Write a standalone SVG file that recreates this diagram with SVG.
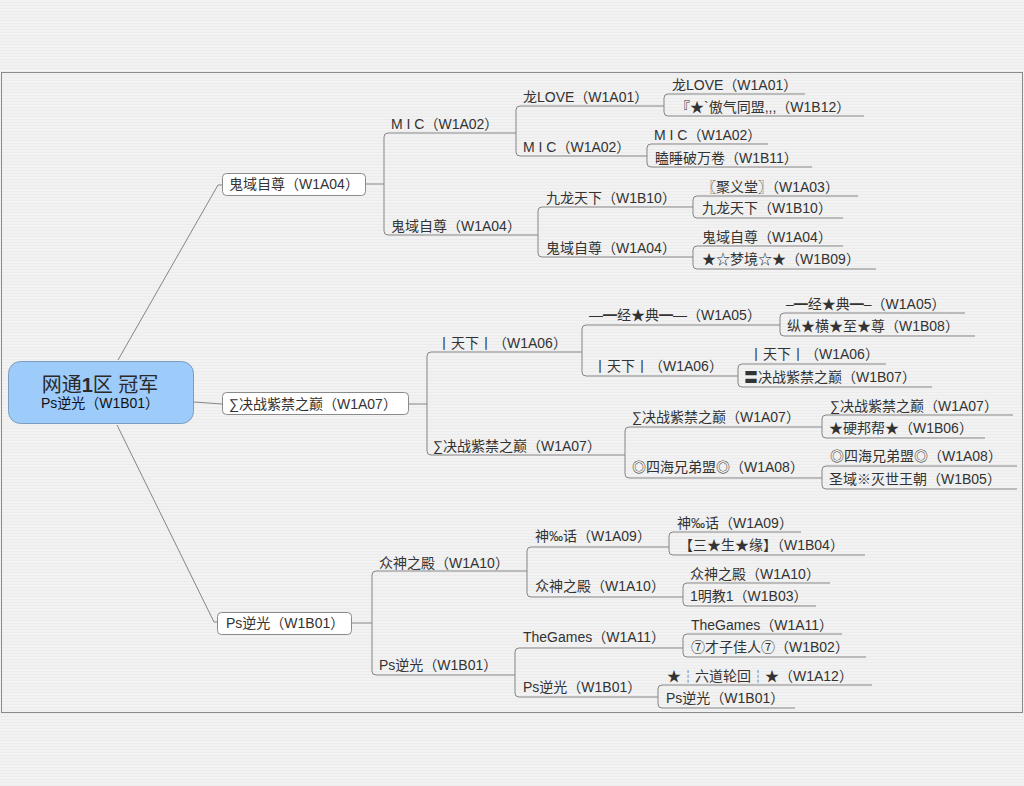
<svg xmlns="http://www.w3.org/2000/svg" width="1024" height="786" viewBox="0 0 1024 786">
<defs>
<pattern id="stripes" width="4" height="3" patternUnits="userSpaceOnUse">
<rect width="4" height="3" fill="#f2f2f2"/>
<rect y="2" width="4" height="1" fill="#ececec"/>
</pattern>
<style>
.t{font-family:"Liberation Sans","Noto Sans CJK SC",sans-serif;font-size:14px;fill:#333}
.u{stroke:#858585;stroke-width:1;fill:none}
.c{stroke:#858585;stroke-width:1;fill:none}
.box{fill:#ffffff;stroke:#8a8a8a;stroke-width:1}
</style>
</defs>
<rect width="1024" height="786" fill="url(#stripes)"/>
<rect x="1.5" y="72.5" width="1021" height="640" fill="none" stroke="#8a8a8a"/>

<g id="connectors">
<!-- root to level 1 -->
<path class="c" d="M118,360 L218,185 H222"/>
<path class="c" d="M194,402 L222,404"/>
<path class="c" d="M117,425 L214,622 H217"/>
<!-- section 1 -->
<path class="c" d="M366,184 H384"/>
<path class="c" d="M388,133 Q384,133 384,137 V231 Q384,235 388,235"/>
<path class="c" d="M520,106 Q516,106 516,110 V152 Q516,156 520,156"/>
<path class="c" d="M668,94 Q664,94 664,98 V112 Q664,116 668,116"/>
<path class="c" d="M651,144 Q647,144 647,148 V163 Q647,167 651,167"/>
<path class="c" d="M542,207 Q538,207 538,211 V253 Q538,257 542,257"/>
<path class="c" d="M697,196 Q693,196 693,200 V214 Q693,218 697,218"/>
<path class="c" d="M697,246 Q693,246 693,250 V265 Q693,269 697,269"/>
<!-- section 2 -->
<path class="c" d="M409,404 H427"/>
<path class="c" d="M431,352 Q427,352 427,356 V451 Q427,455 431,455"/>
<path class="c" d="M586,325 Q582,325 582,329 V372 Q582,376 586,376"/>
<path class="c" d="M784,313 Q780,313 780,317 V332 Q780,336 784,336"/>
<path class="c" d="M742,364 Q738,364 738,368 V383 Q738,387 742,387"/>
<path class="c" d="M629,427 Q625,427 625,431 V474 Q625,478 629,478"/>
<path class="c" d="M826,415 Q822,415 822,419 V434 Q822,438 826,438"/>
<path class="c" d="M826,466 Q822,466 822,470 V485 Q822,489 826,489"/>
<!-- section 3 -->
<path class="c" d="M352,623 H372"/>
<path class="c" d="M376,571 Q372,571 372,575 V671 Q372,675 376,675"/>
<path class="c" d="M531,547 Q527,547 527,551 V593 Q527,597 531,597"/>
<path class="c" d="M673,532 Q669,532 669,536 V551 Q669,555 673,555"/>
<path class="c" d="M687,583 Q683,583 683,587 V602 Q683,606 687,606"/>
<path class="c" d="M519,648 Q515,648 515,652 V693 Q515,697 519,697"/>
<path class="c" d="M687,634 Q683,634 683,638 V653 Q683,657 687,657"/>
<path class="c" d="M662,685 Q658,685 658,689 V704 Q658,708 662,708"/>
</g>

<g id="root">
<rect x="8.5" y="361.5" width="185" height="62" rx="12" fill="#9dcbfa" stroke="#7d9cbd"/>
<text x="100" y="392" text-anchor="middle" style="font-family:'Liberation Sans','Noto Sans CJK SC',sans-serif;font-size:20px;fill:#2a2a2a">网通<tspan font-weight="bold">1</tspan>区 冠军</text>
<text x="100" y="408" text-anchor="middle" class="t" style="fill:#111">Ps逆光（W1B01）</text>
</g>

<!-- Section 1 -->
<g id="n-s1">
<rect class="box" x="222.5" y="173.5" width="143" height="22" rx="4"/>
<text class="t" x="229" y="189">鬼域自尊（W1A04）</text>
</g>
<g id="n-s1-a"><text class="t" x="391" y="129">M I C（W1A02）</text><path class="u" d="M388,133 H516"/></g>
<g id="n-s1-b"><text class="t" x="391" y="231">鬼域自尊（W1A04）</text><path class="u" d="M388,235 H538"/></g>
<g id="n-s1-a1"><text class="t" x="523" y="102">龙LOVE（W1A01）</text><path class="u" d="M520,106 H664"/></g>
<g id="n-s1-a2"><text class="t" x="523" y="152">M I C（W1A02）</text><path class="u" d="M520,156 H647"/></g>
<g id="n-s1-a1a"><text class="t" x="672" y="90">龙LOVE（W1A01）</text><path class="u" d="M668,94 H805"/></g>
<g id="n-s1-a1b"><text class="t" x="676" y="112">『★`傲气同盟,,,（W1B12）</text><path class="u" d="M668,116 H864"/></g>
<g id="n-s1-a2a"><text class="t" x="654" y="140">M I C（W1A02）</text><path class="u" d="M651,144 H768"/></g>
<g id="n-s1-a2b"><text class="t" x="655" y="163">瞌睡破万卷（W1B11）</text><path class="u" d="M651,167 H812"/></g>
<g id="n-s1-b1"><text class="t" x="546" y="203">九龙天下（W1B10）</text><path class="u" d="M542,207 H693"/></g>
<g id="n-s1-b2"><text class="t" x="546" y="253">鬼域自尊（W1A04）</text><path class="u" d="M542,257 H693"/></g>
<g id="n-s1-b1a"><text class="t" x="702" y="192">〖聚义堂〗（W1A03）</text><path class="u" d="M697,196 H858"/></g>
<g id="n-s1-b1b"><text class="t" x="702" y="213">九龙天下（W1B10）</text><path class="u" d="M697,218 H843"/></g>
<g id="n-s1-b2a"><text class="t" x="702" y="242">鬼域自尊（W1A04）</text><path class="u" d="M697,246 H843"/></g>
<g id="n-s1-b2b"><text class="t" x="702" y="264">★☆梦境☆★（W1B09）</text><path class="u" d="M697,269 H876"/></g>

<!-- Section 2 -->
<g id="n-s2">
<rect class="box" x="222.5" y="392.5" width="186" height="22" rx="4"/>
<text class="t" x="229" y="409">∑决战紫禁之巅（W1A07）</text>
</g>
<g id="n-s2-a"><text class="t" x="437" y="348">丨天下丨（W1A06）</text><path class="u" d="M431,352 H582"/></g>
<g id="n-s2-b"><text class="t" x="433" y="451">∑决战紫禁之巅（W1A07）</text><path class="u" d="M431,455 H625"/></g>
<g id="n-s2-a1"><text class="t" x="589" y="320">—━经★典━—（W1A05）</text><path class="u" d="M586,325 H780"/></g>
<g id="n-s2-a2"><text class="t" x="593" y="371">丨天下丨（W1A06）</text><path class="u" d="M586,376 H738"/></g>
<g id="n-s2-a1a"><text class="t" x="786" y="309">–━经★典━–（W1A05）</text><path class="u" d="M784,313 H965"/></g>
<g id="n-s2-a1b"><text class="t" x="787" y="331">纵★横★至★尊（W1B08）</text><path class="u" d="M784,336 H975"/></g>
<g id="n-s2-a2a"><text class="t" x="749" y="359">丨天下丨（W1A06）</text><path class="u" d="M742,364 H886"/></g>
<g id="n-s2-a2b"><text class="t" x="744" y="382">〓决战紫禁之巅（W1B07）</text><path class="u" d="M742,387 H932"/></g>
<g id="n-s2-b1"><text class="t" x="632" y="422">∑决战紫禁之巅（W1A07）</text><path class="u" d="M629,427 H822"/></g>
<g id="n-s2-b2"><text class="t" x="632" y="472">◎四海兄弟盟◎（W1A08）</text><path class="u" d="M629,478 H822"/></g>
<g id="n-s2-b1a"><text class="t" x="830" y="411">∑决战紫禁之巅（W1A07）</text><path class="u" d="M826,415 H1013"/></g>
<g id="n-s2-b1b"><text class="t" x="829" y="433">★硬邦帮★（W1B06）</text><path class="u" d="M826,438 H985"/></g>
<g id="n-s2-b2a"><text class="t" x="830" y="461">◎四海兄弟盟◎（W1A08）</text><path class="u" d="M826,466 H1017"/></g>
<g id="n-s2-b2b"><text class="t" x="829" y="484">圣域※灭世王朝（W1B05）</text><path class="u" d="M826,489 H1017"/></g>

<!-- Section 3 -->
<g id="n-s3">
<rect class="box" x="217.5" y="612.5" width="134" height="22" rx="4"/>
<text class="t" x="226" y="628">Ps逆光（W1B01）</text>
</g>
<g id="n-s3-a"><text class="t" x="379" y="568">众神之殿（W1A10）</text><path class="u" d="M376,571 H527"/></g>
<g id="n-s3-b"><text class="t" x="379" y="670">Ps逆光（W1B01）</text><path class="u" d="M376,675 H515"/></g>
<g id="n-s3-a1"><text class="t" x="535" y="541">神‰话（W1A09）</text><path class="u" d="M531,547 H669"/></g>
<g id="n-s3-a2"><text class="t" x="535" y="591">众神之殿（W1A10）</text><path class="u" d="M531,597 H683"/></g>
<g id="n-s3-a1a"><text class="t" x="677" y="528">神‰话（W1A09）</text><path class="u" d="M673,532 H801"/></g>
<g id="n-s3-a1b"><text class="t" x="679" y="550">【三★生★缘】（W1B04）</text><path class="u" d="M673,555 H865"/></g>
<g id="n-s3-a2a"><text class="t" x="690" y="579">众神之殿（W1A10）</text><path class="u" d="M687,583 H830"/></g>
<g id="n-s3-a2b"><text class="t" x="690" y="601">1明教1（W1B03）</text><path class="u" d="M687,606 H816"/></g>
<g id="n-s3-b1"><text class="t" x="523" y="642">TheGames（W1A11）</text><path class="u" d="M519,648 H683"/></g>
<g id="n-s3-b2"><text class="t" x="523" y="692">Ps逆光（W1B01）</text><path class="u" d="M519,697 H658"/></g>
<g id="n-s3-b1a"><text class="t" x="691" y="630">TheGames（W1A11）</text><path class="u" d="M687,634 H842"/></g>
<g id="n-s3-b1b"><text class="t" x="691" y="652">⑦才子佳人⑦（W1B02）</text><path class="u" d="M687,657 H866"/></g>
<g id="n-s3-b2a"><text class="t" x="667" y="681">★┆六道轮回┆★（W1A12）</text><path class="u" d="M662,685 H872"/></g>
<g id="n-s3-b2b"><text class="t" x="666" y="703">Ps逆光（W1B01）</text><path class="u" d="M662,708 H795"/></g>
</svg>
